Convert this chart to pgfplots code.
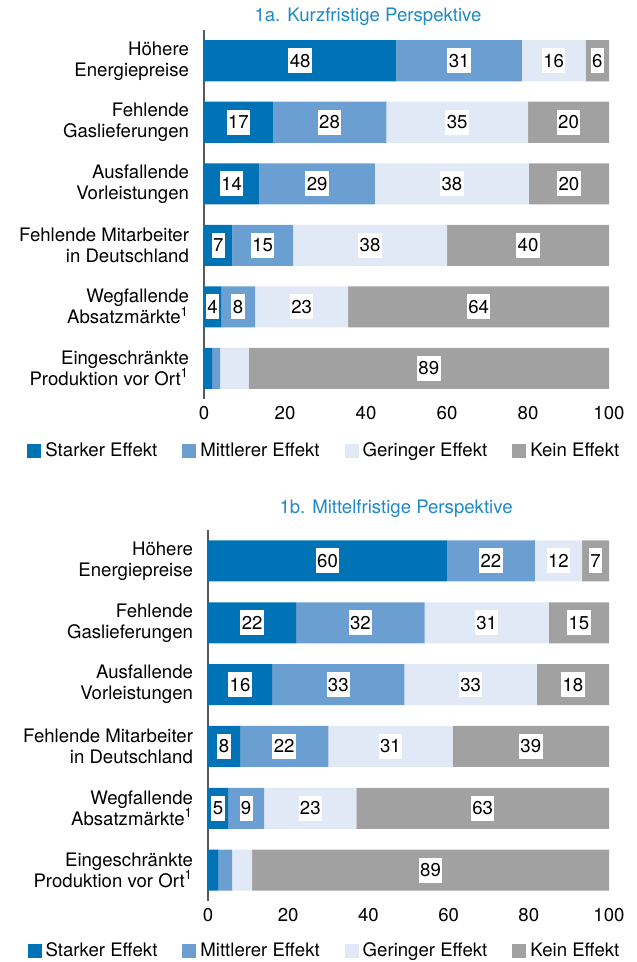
\documentclass[border=0pt]{standalone}
\usepackage{pgfplots}
\pgfplotsset{compat=1.18}
\usepackage{fontspec}
\setmainfont{TeX Gyre Heros}
\definecolor{cA}{RGB}{0,114,182}
\definecolor{cB}{RGB}{107,159,210}
\definecolor{cC}{RGB}{225,232,246}
\definecolor{cD}{RGB}{160,161,160}
\definecolor{ctitle}{RGB}{30,136,200}
\setlength{\fboxsep}{0.7pt}
\newcommand{\lbl}[1]{\colorbox{white}{\rule[-2.3pt]{0pt}{11.1pt}#1}}
\newcommand{\fs}{\fontsize{9.3}{10.5}\selectfont}
\pgfplotsset{
  every axis title shift=0pt,
  mystyle/.style={
    scale only axis,
    xbar stacked,
    bar width=20.5pt,
    xmin=0, xmax=100, ymin=-0.5, ymax=5.5,
    enlargelimits=false,
    axis y line*=left, axis x line*=bottom,
    x axis line style={draw=none},
    y axis line style={-, draw=black!65, line width=1pt},
    major tick length=0pt,
    xtick={0,20,...,100},
    ytick={0,...,5},
    yticklabels={{Eingeschränkte\\Produktion vor Ort\textsuperscript{1}},{Wegfallende\\Absatzmärkte\textsuperscript{1}},{Fehlende Mitarbeiter\\in Deutschland},{Ausfallende\\Vorleistungen},{Fehlende\\Gaslieferungen},{Höhere\\Energiepreise}},
    yticklabel style={align=right, font=\fs, xshift=-4pt},
    xticklabel style={font=\fs},
    /pgf/number format/assume math mode=true,
    legend columns=4,
    legend style={draw=none, fill=none, anchor=west, inner sep=0pt, font=\fs, /tikz/every even column/.append style={column sep=10.5pt}},
    legend image code/.code={\fill[#1,draw=none] (0pt,-3.5pt) rectangle (7pt,3.5pt);},
    point meta=explicit symbolic,
    visualization depends on=y \as \rawy,
    nodes near coords style={anchor=center, inner sep=0pt, font=\fs},
    title style={font=\fs, text=ctitle, anchor=center, yshift=0pt},
  },
  lab/.style={nodes near coords={\ifdim\rawy pt>0.5pt\lbl{\pgfplotspointmeta}\fi}},
  laball/.style={nodes near coords={\lbl{\pgfplotspointmeta}}},
}
\begin{document}
\begin{tikzpicture}
\path[use as bounding box] (0,0) rectangle (318pt,-481pt);
\begin{axis}[mystyle,
  at={(102pt,-199.5pt)}, anchor=south west,
  width=202.5pt, height=184.5pt,
  title={1a. Kurzfristige Perspektive},
  title style={at={(0.405,1.035)}},
  legend style={at={(-0.437,-0.142)}},
]
\addplot[fill=cA, draw=none, lab] coordinates {(47.5,5) [48] (17,4) [17] (13.7,3) [14] (7,2) [7] (4.2,1) [4] (2,0) [2]};
\addplot[fill=cB, draw=none, lab] coordinates {(31,5) [31] (28,4) [28] (28.5,3) [29] (15,2) [15] (8.4,1) [8] (2,0) [2]};
\addplot[fill=cC, draw=none, lab] coordinates {(15.7,5) [16] (35,4) [35] (38,3) [38] (38,2) [38] (23,1) [23] (7,0) [7]};
\addplot[fill=cD, draw=none, laball] coordinates {(5.8,5) [6] (20,4) [20] (19.8,3) [20] (40,2) [40] (64.4,1) [64] (89,0) [89]};
\legend{Starker Effekt, Mittlerer Effekt, Geringer Effekt, Kein Effekt}
\end{axis}
\begin{axis}[mystyle,
  at={(104pt,-450.5pt)}, anchor=south west,
  width=200.5pt, height=185.5pt,
  title={1b. Mittelfristige Perspektive},
  title style={at={(0.469,1.058)}},
  legend style={at={(-0.451,-0.136)}},
]
\addplot[fill=cA, draw=none, lab] coordinates {(59.6,5) [60] (22,4) [22] (16,3) [16] (8,2) [8] (5,1) [5] (2.5,0) [2]};
\addplot[fill=cB, draw=none, lab] coordinates {(21.9,5) [22] (32,4) [32] (33,3) [33] (22,2) [22] (9,1) [9] (3.5,0) [4]};
\addplot[fill=cC, draw=none, lab] coordinates {(11.8,5) [12] (31,4) [31] (33,3) [33] (31,2) [31] (23,1) [23] (5,0) [5]};
\addplot[fill=cD, draw=none, laball] coordinates {(6.7,5) [7] (15,4) [15] (18,3) [18] (39,2) [39] (63,1) [63] (89,0) [89]};
\legend{Starker Effekt, Mittlerer Effekt, Geringer Effekt, Kein Effekt}
\end{axis}
\end{tikzpicture}
\end{document}
